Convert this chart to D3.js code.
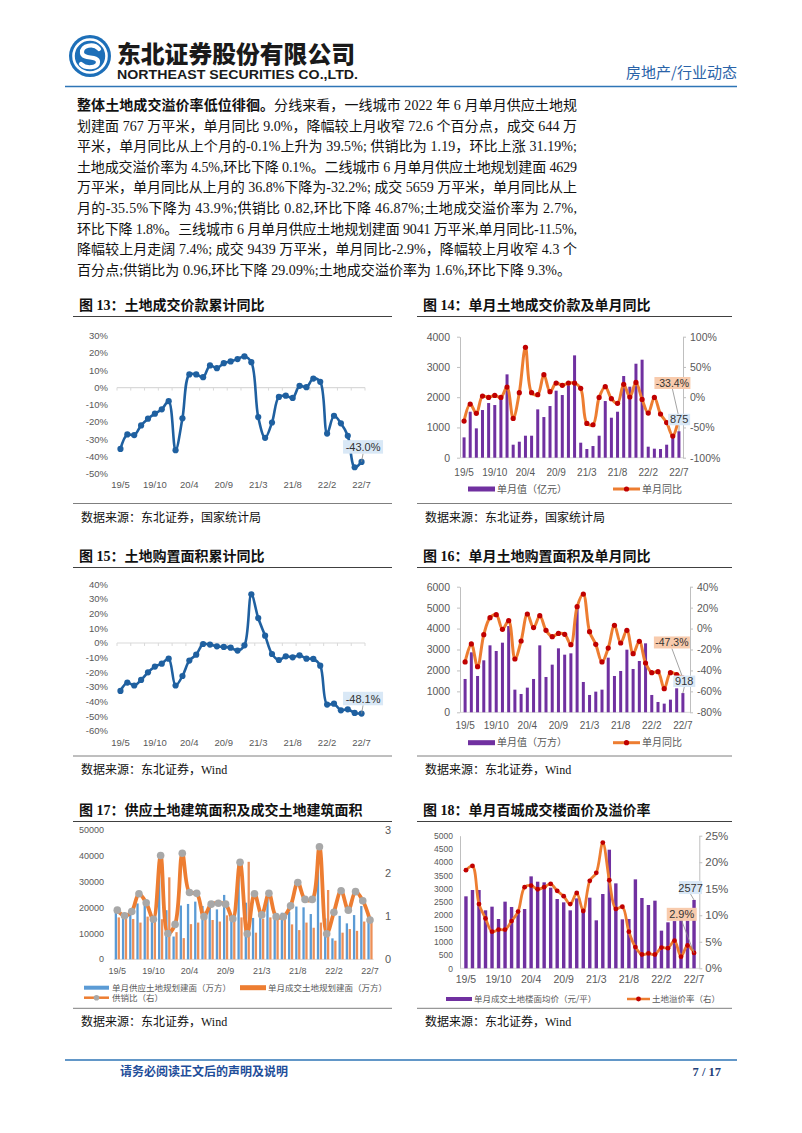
<!DOCTYPE html>
<html><head><meta charset="utf-8">
<script src="https://cdn.jsdelivr.net/npm/d3@7"></script>
<style>body{margin:0;background:#fff}svg{display:block}</style>
</head><body><svg id="page" width="802" height="1133"></svg>
<script>
// ---------------- DATA ----------------
const months = ["19/5","19/6","19/7","19/8","19/9","19/10","19/11","19/12",
"20/2","20/3","20/4","20/5","20/6","20/7","20/8","20/9","20/10","20/11","20/12",
"21/2","21/3","21/4","21/5","21/6","21/7","21/8","21/9","21/10","21/11","21/12",
"22/2","22/3","22/4","22/5","22/6","22/7"];
const xTickLabels = ["19/5","19/10","20/4","20/9","21/3","21/8","22/2","22/7"];

// Fig 13: cumulative land transaction value YoY (%)
const cumValueYoY = [-35.5,-27.1,-27.5,-21.9,-18.0,-15.1,-12.6,-7.9,-36.2,-17.8,7.6,7.6,6.0,12.8,11.2,14.1,15.1,16.5,18.0,14.7,-17.1,-29.1,-20.2,-5.4,-4.7,-6.0,1.0,0.2,5.2,3.3,-26.6,-16.3,-20.7,-27.9,-46.1,-43.0];
// Fig 14: monthly land transaction value (亿元) and YoY (%)
const monthValue = [672,1520,970,1576,1807,1741,1994,2755,430,529,727,727,1598,1344,1708,2215,2072,2391,3383,496,287,386,727,1873,1322,1520,2700,2347,3107,3240,364,298,287,430,780,875];
const monthValueYoY = [-39.4,-11.3,-26.7,1.9,-0.3,3.0,-0.3,16.8,-35.0,7.4,82.4,7.4,4.1,37.2,9.1,23.4,19.6,23.4,23.4,14.6,-43.3,-45.5,-0.3,17.4,-2.5,-10.2,21.2,0.3,24.5,-3.6,-26.2,-0.3,-27.8,-42.0,-64.2,-33.4];
// Fig 15: cumulative land purchase area YoY (%)
const cumAreaYoY = [-32.7,-27.0,-29.0,-25.2,-20.0,-16.1,-14.1,-10.7,-29.0,-22.5,-12.0,-8.0,-0.7,-1.1,-2.3,-2.7,-3.2,-5.2,-1.6,33.2,17.0,5.0,-7.5,-11.6,-9.1,-9.8,-8.4,-10.7,-10.9,-15.5,-42.0,-41.4,-45.9,-45.2,-47.7,-48.1];
// Fig 16: monthly land purchase area (万方) and YoY (%)
const monthArea = [1592,2865,1735,2483,3199,2929,3326,4122,1082,875,1178,1592,3199,1687,2276,3056,2753,2817,4982,1448,828,987,1082,2610,1735,1974,2992,2069,2451,3295,828,493,414,605,1146,918];
const monthAreaYoY = [-31.9,-14.7,-36.4,-5.8,10.4,13.3,-0.7,7.5,-29.1,-11.9,13.9,0.9,12.3,-1.7,-7.7,-4.6,-5.5,-15.4,20.9,33.0,-3.0,-15.1,-31.9,-18.6,3.1,-13.8,-1.7,-24.0,-12.2,-32.9,-42.1,-41.2,-57.4,-42.1,-44.0,-47.3];
// Fig 17: supply / transaction planned floor area (万方) and supply-sales ratio
const supplyArea = [19300,17100,18400,21600,21000,15300,39500,19000,8800,20800,21400,22300,20600,21000,19300,24900,15200,37400,21900,16000,16200,24000,16500,18000,18400,20400,20100,17500,38100,15800,8100,16800,13900,17100,20600,15200];
const soldArea = [16200,16500,15600,14200,16500,16400,15500,31700,10500,8200,13600,14200,18500,15200,14600,17000,16200,16200,37700,10300,15700,16200,16000,17500,13500,11300,14200,12200,14200,26800,7200,10300,11700,11000,14600,15000];
const supplySalesRatio = [1.14,1.01,1.11,1.52,1.31,0.93,2.41,0.60,0.81,2.46,1.55,1.53,0.99,1.28,1.30,1.28,0.94,2.25,0.59,1.52,1.03,1.53,0.99,0.99,1.24,1.78,1.39,1.39,2.61,0.59,1.09,1.59,1.14,1.57,1.36,0.91];
// Fig 18: 100-city land floor price (元/平) and premium rate (%)
const floorPrice = [2714,2952,2952,2186,2324,1859,2513,2312,2136,2236,3467,3266,3241,3040,2613,2487,2186,2638,2211,2663,1809,2801,4472,3203,1847,1859,3354,2651,2387,2550,1420,1734,1780,1850,1800,2577];
const premiumRate = [18.5,19.3,12.1,9.4,6.9,7.3,7.3,8.9,10.7,15.3,15.6,14.9,15.3,15.9,14.6,13.6,12.1,14.2,10.8,16.5,18.0,23.7,16.6,11.2,11.6,6.9,4.0,2.6,2.8,2.6,3.9,3.8,5.2,2.2,4.3,2.9];

const bodyLines = [
  [["整体土地成交溢价率低位徘徊。",true],["分线来看，一线城市 2022 年 6 月单月供应土地规",false]],
  [["划建面 767 万平米，单月同比 9.0%，降幅较上月收窄 72.6 个百分点，成交 644 万",false]],
  [["平米，单月同比从上个月的-0.1%上升为 39.5%; 供销比为 1.19，环比上涨 31.19%;",false]],
  [["土地成交溢价率为 4.5%,环比下降 0.1%。二线城市 6 月单月供应土地规划建面 4629",false]],
  [["万平米，单月同比从上月的 36.8%下降为-32.2%; 成交 5659 万平米，单月同比从上",false]],
  [["月的-35.5%下降为 43.9%;供销比 0.82,环比下降 46.87%;土地成交溢价率为 2.7%,",false]],
  [["环比下降 1.8%。三线城市 6 月单月供应土地规划建面 9041 万平米,单月同比-11.5%,",false]],
  [["降幅较上月走阔 7.4%; 成交 9439 万平米，单月同比-2.9%，降幅较上月收窄 4.3 个",false]],
  [["百分点;供销比为 0.96,环比下降 29.09%;土地成交溢价率为 1.6%,环比下降 9.3%。",false]]
];

// ---------------- DRAW ----------------
const svg = d3.select("#page");
const SERIF = '"Liberation Serif","Noto Sans CJK SC",serif';
const SANS = '"Liberation Sans","Noto Sans CJK SC",sans-serif';
const CJK = '"Noto Sans CJK SC",sans-serif';
const GRAY = "#595959";
const intFmt = d3.format("d");
svg.append("rect").attr("width",802).attr("height",1133).attr("fill","#fff");

// Header
const logo = svg.append("g").attr("transform","translate(90,56)");
logo.append("circle").attr("r",21).attr("fill","#1d6fb8");
logo.append("circle").attr("r",16.5).attr("fill","none").attr("stroke","#fff").attr("stroke-width",2.6);
logo.append("path").attr("d","M9,-7 C4,-13 -9,-11 -8,-3 C-7,4 8,-1 8,6 C8,12 -4,13 -9,8")
  .attr("fill","none").attr("stroke","#fff").attr("stroke-width",4.2).attr("stroke-linecap","round");
svg.append("text").attr("x",117).attr("y",63).attr("font-family",CJK).attr("font-weight",900)
  .attr("font-size",24).attr("fill","#1a1a1a").attr("textLength",238).attr("lengthAdjust","spacingAndGlyphs").text("东北证券股份有限公司");
svg.append("text").attr("x",117).attr("y",79).attr("font-family",SANS).attr("font-weight",700)
  .attr("font-size",12.5).attr("fill","#1a1a1a").attr("textLength",241).attr("lengthAdjust","spacingAndGlyphs").text("NORTHEAST SECURITIES CO.,LTD.");
svg.append("text").attr("x",737).attr("y",78).attr("text-anchor","end").attr("font-family",CJK)
  .attr("font-size",15).attr("fill","#2a63a8").text("房地产/行业动态");
svg.append("line").attr("x1",65).attr("x2",737).attr("y1",86.5).attr("y2",86.5).attr("stroke","#2e75b6").attr("stroke-width",1.5);

// Body paragraph
bodyLines.forEach((parts,k)=>{
  const t = svg.append("text").attr("x",77).attr("y",110+20.6*k).attr("font-family",SERIF)
    .attr("font-size",14).attr("fill","#111").attr("textLength",k<8?500:494).attr("lengthAdjust","spacing");
  parts.forEach(([s,b])=>t.append("tspan").attr("font-weight",b?700:400).attr("font-family",b?CJK:SERIF).text(s));
});

// Footer
svg.append("line").attr("x1",65).attr("x2",737).attr("y1",1060).attr("y2",1060).attr("stroke","#2e75b6").attr("stroke-width",1.5);
svg.append("text").attr("x",120).attr("y",1076).attr("font-family",CJK).attr("font-weight",700)
  .attr("font-size",12).attr("fill","#1f4e9a").text("请务必阅读正文后的声明及说明");
svg.append("text").attr("x",721).attr("y",1076).attr("text-anchor","end").attr("font-family",SERIF).attr("font-weight",700)
  .attr("font-size",12.5).attr("fill","#1f3f7a").text("7 / 17");

// Frame helpers
function frame(x0,x1,titleY,title,srcY,src){
  svg.append("text").attr("x",x0+6).attr("y",titleY).attr("font-family",SERIF).attr("font-weight",700)
    .attr("font-size",14).attr("fill","#111").text(title);
  svg.append("line").attr("x1",x0).attr("x2",x1).attr("y1",titleY+6.5).attr("y2",titleY+6.5).attr("stroke","#404040").attr("stroke-width",1.2);
  svg.append("line").attr("x1",x0).attr("x2",x1).attr("y1",srcY).attr("y2",srcY).attr("stroke","#7f7f7f").attr("stroke-width",1);
  svg.append("text").attr("x",x0+8).attr("y",srcY+18).attr("font-family",SERIF)
    .attr("font-size",12).attr("fill","#111").text(src);
}
const xs = (range)=>d3.scaleBand().domain(months).range(range).padding(0);
const cx = (x)=>d=>x(d)+x.bandwidth()/2;

function xLabels(g,x,y,fs){
  g.selectAll(null).data(xTickLabels).join("text").attr("x",cx(x)).attr("y",y)
    .attr("text-anchor","middle").attr("font-family",SANS).attr("font-size",fs).attr("fill",GRAY).text(d=>d);
}
function yLabels(g,scale,ticks,xpos,anchor,fs,fmt){
  g.selectAll(null).data(ticks).join("text").attr("x",xpos).attr("y",d=>scale(d)).attr("dy","0.35em")
    .attr("text-anchor",anchor).attr("font-family",SANS).attr("font-size",fs).attr("fill",GRAY).text(fmt);
}
function callout(g,px,py,dx,dy,w,h,txt,fill,fs){
  g.append("line").attr("x1",px+dx).attr("y1",py+dy+h/2).attr("x2",px).attr("y2",py).attr("stroke","#8c8c8c").attr("stroke-width",0.8);
  g.append("rect").attr("x",px+dx-w/2).attr("y",py+dy-h/2).attr("width",w).attr("height",h).attr("fill",fill);
  g.append("text").attr("x",px+dx).attr("y",py+dy).attr("dy","0.36em").attr("text-anchor","middle")
    .attr("font-family",SANS).attr("font-size",fs).attr("fill","#333").text(txt);
}
const BLUEBOX="#d9e8f6", ORBOX="#f8cbad";

// ---- cumulative YoY line charts (13, 15)
function cumChart(data,yDom,yRange,ticks,xLabY,label){
  const g = svg.append("g");
  const x = xs([117,365]);
  const y = d3.scaleLinear().domain(yDom).range(yRange);
  g.append("line").attr("x1",117).attr("x2",365).attr("y1",y(0)).attr("y2",y(0)).attr("stroke","#d9d9d9").attr("stroke-width",1.2);
  g.selectAll(null).data(d3.range(0,37,2)).join("line").attr("x1",i=>117+i*x.bandwidth()).attr("x2",i=>117+i*x.bandwidth())
    .attr("y1",y(0)).attr("y2",y(0)+3).attr("stroke","#d9d9d9");
  yLabels(g,y,ticks,108,"end",9.5,d=>d+"%");
  xLabels(g,x,xLabY,9.5);
  const line = d3.line().x((d,i)=>cx(x)(months[i])).y(d=>y(d)).curve(d3.curveCatmullRom.alpha(0.5));
  g.append("path").attr("d",line(data)).attr("fill","none").attr("stroke","#1f60a0").attr("stroke-width",2.6);
  g.selectAll(null).data(data).join("circle").attr("cx",(d,i)=>cx(x)(months[i])).attr("cy",d=>y(d)).attr("r",3.1).attr("fill","#1f60a0");
  const last = data.length-1;
  callout(g,cx(x)(months[last]),y(data[last]),1.5,-15,40,13.5,label,BLUEBOX,11);
}
frame(73,392,310,"图 13：土地成交价款累计同比",503.5,"数据来源：东北证券，国家统计局");
cumChart(cumValueYoY,[-50,30],[474,335.7],d3.range(-50,31,10),488,"-43.0%");
frame(73,392,561,"图 15：土地购置面积累计同比",756,"数据来源：东北证券，Wind");
cumChart(cumAreaYoY,[-60,40],[731,584.3],d3.range(-60,41,10),745.5,"-48.1%");

// ---- bar + line (14, 16)
function barLineChart(bars,line,opt){
  const g = svg.append("g");
  const x = xs(opt.xr);
  const yL = d3.scaleLinear().domain(opt.lDom).range(opt.yr);
  const yR = d3.scaleLinear().domain(opt.rDom).range(opt.yr);
  g.append("g").attr("transform",`translate(${opt.axL},0)`)
    .call(d3.axisLeft(yL).tickValues(opt.lTicks).tickFormat(intFmt).tickSize(3).tickSizeOuter(0).tickPadding(7))
    .call(a=>{a.selectAll("path,line").attr("stroke","#bfbfbf");a.selectAll("text").attr("font-family",SANS).attr("font-size",10.5).attr("fill",GRAY);});
  g.append("g").attr("transform",`translate(${opt.axR},0)`)
    .call(d3.axisRight(yR).tickValues(opt.rTicks).tickFormat(d=>d+"%").tickSize(3).tickSizeOuter(0).tickPadding(opt.rPad))
    .call(a=>{a.selectAll("path,line").attr("stroke","#bfbfbf");a.selectAll("text").attr("font-family",SANS).attr("font-size",10.5).attr("fill",GRAY);});
  g.append("line").attr("x1",opt.axL).attr("x2",opt.axR).attr("y1",yL(0)).attr("y2",yL(0)).attr("stroke","#d9d9d9");
  g.selectAll(null).data(bars).join("rect").attr("x",(d,i)=>cx(x)(months[i])-1.5).attr("width",3)
    .attr("y",d=>yL(d)).attr("height",d=>yL(0)-yL(d)).attr("fill","#7030a0");
  const ln = d3.line().x((d,i)=>cx(x)(months[i])).y(d=>yR(d)).curve(d3.curveCatmullRom.alpha(0.5));
  g.append("path").attr("d",ln(line)).attr("fill","none").attr("stroke","#ed7d31").attr("stroke-width",3);
  g.selectAll(null).data(line).join("circle").attr("cx",(d,i)=>cx(x)(months[i])).attr("cy",d=>yR(d)).attr("r",2.6).attr("fill","#c00000");
  xLabels(g,x,opt.xLabY,10);
  const last = months.length-1, lx = cx(x)(months[last]);
  callout(g,lx,yR(line[last]),opt.c1[0],opt.c1[1],36,12,opt.c1[2],ORBOX,10.5);
  callout(g,lx,yL(bars[last]),opt.c2[0],opt.c2[1],opt.c2[3],11.5,opt.c2[2],BLUEBOX,11);
  // legend
  const ly = opt.legY;
  g.append("rect").attr("x",468).attr("y",ly-2.5).attr("width",27).attr("height",5).attr("fill","#7030a0");
  g.append("text").attr("x",497).attr("y",ly).attr("dy","0.35em").attr("font-family",CJK).attr("font-size",10).attr("fill",GRAY).text(opt.legText);
  g.append("line").attr("x1",613).attr("x2",640).attr("y1",ly).attr("y2",ly).attr("stroke","#ed7d31").attr("stroke-width",3);
  g.append("circle").attr("cx",626.5).attr("cy",ly).attr("r",2.6).attr("fill","#c00000");
  g.append("text").attr("x",642).attr("y",ly).attr("dy","0.35em").attr("font-family",CJK).attr("font-size",10).attr("fill",GRAY).text("单月同比");
}
frame(417,732,310,"图 14：单月土地成交价款及单月同比",503.5,"数据来源：东北证券，国家统计局");
barLineChart(monthValue,monthValueYoY,{xr:[461,682],lDom:[0,4000],rDom:[-100,100],yr:[457.7,336.7],axL:460,axR:683,
  lTicks:d3.range(0,4001,1000),rTicks:d3.range(-100,101,50),rPad:4,xLabY:476,legY:489,legText:"单月值（亿元）",
  c1:[-6.5,-34.4,"-33.4%"],c2:[0.2,-11.7,"875",22]});
frame(417,732,561,"图 16：单月土地购置面积及单月同比",756,"数据来源：东北证券，Wind");
barLineChart(monthArea,monthAreaYoY,{xr:[462,686],lDom:[0,6000],rDom:[-80,40],yr:[712.3,586.7],axL:460,axR:690,
  lTicks:d3.range(0,6001,1000),rTicks:d3.range(-80,41,20),rPad:4,xLabY:729,legY:742.7,legText:"单月值（万方）",
  c1:[-11,-35.6,"-47.3%"],c2:[1.4,-11.8,"918",22]});

// ---- Fig 17
(function(){
  frame(73,392,815,"图 17：供应土地建筑面积及成交土地建筑面积",1008.3,"数据来源：东北证券，Wind");
  const g = svg.append("g");
  const x = xs([113.7,373.6]);
  const yL = d3.scaleLinear().domain([0,50000]).range([959.3,830]);
  const yR = d3.scaleLinear().domain([0,3]).range([959.3,830]);
  yLabels(g,yL,d3.range(0,50001,10000),104,"end",9,d=>d);
  yLabels(g,yR,[0,1,2,3],385,"start",11,d=>d);
  g.append("line").attr("x1",113.7).attr("x2",373.6).attr("y1",yL(0)).attr("y2",yL(0)).attr("stroke","#d9d9d9");
  g.selectAll(null).data(supplyArea).join("rect").attr("x",(d,i)=>cx(x)(months[i])-2.6).attr("width",2.3)
    .attr("y",d=>yL(d)).attr("height",d=>yL(0)-yL(d)).attr("fill","#5b9bd5");
  g.selectAll(null).data(soldArea).join("rect").attr("x",(d,i)=>cx(x)(months[i])+0.3).attr("width",2.3)
    .attr("y",d=>yL(d)).attr("height",d=>yL(0)-yL(d)).attr("fill","#ec8f57");
  const ln = d3.line().x((d,i)=>cx(x)(months[i])).y(d=>yR(d)).curve(d3.curveCatmullRom.alpha(0.5));
  g.append("path").attr("d",ln(supplySalesRatio)).attr("fill","none").attr("stroke","#ed7d31").attr("stroke-width",3.8);
  g.selectAll(null).data(supplySalesRatio).join("circle").attr("cx",(d,i)=>cx(x)(months[i])).attr("cy",d=>yR(d)).attr("r",3.8).attr("fill","#a8a8a8");
  xLabels(g,x,973.5,9);
  const fs=8.5;
  g.append("rect").attr("x",84).attr("y",985.7).attr("width",25).attr("height",4).attr("fill","#5b9bd5");
  g.append("text").attr("x",112).attr("y",987.7).attr("dy","0.35em").attr("font-family",CJK).attr("font-size",fs).attr("fill",GRAY).text("单月供应土地规划建面（万方）");
  g.append("rect").attr("x",240).attr("y",985.2).attr("width",26).attr("height",5).attr("fill","#ed7d31");
  g.append("text").attr("x",268).attr("y",987.7).attr("dy","0.35em").attr("font-family",CJK).attr("font-size",fs).attr("fill",GRAY).text("单月成交土地规划建面（万方）");
  g.append("line").attr("x1",84).attr("x2",109).attr("y1",997.7).attr("y2",997.7).attr("stroke","#ed7d31").attr("stroke-width",2.5);
  g.append("circle").attr("cx",96.5).attr("cy",997.7).attr("r",2.8).attr("fill","#a8a8a8");
  g.append("text").attr("x",112).attr("y",997.7).attr("dy","0.35em").attr("font-family",CJK).attr("font-size",fs).attr("fill",GRAY).text("供销比（右）");
})();

// ---- Fig 18
(function(){
  frame(417,732,815,"图 18：单月百城成交楼面价及溢价率",1008.3,"数据来源：东北证券，Wind");
  const g = svg.append("g");
  const x = xs([462.7,697.3]);
  const yL = d3.scaleLinear().domain([0,5000]).range([968.3,835.7]);
  const yR = d3.scaleLinear().domain([0,25]).range([968.3,835.7]);
  g.append("g").attr("transform","translate(460,0)")
    .call(d3.axisLeft(yL).tickValues(d3.range(0,5001,500)).tickFormat(intFmt).tickSize(0).tickPadding(7))
    .call(a=>{a.selectAll("path").attr("stroke","#bfbfbf");a.selectAll("text").attr("font-family",SANS).attr("font-size",8.5).attr("fill",GRAY);});
  g.append("g").attr("transform","translate(699.3,0)")
    .call(d3.axisRight(yR).tickValues(d3.range(0,26,5)).tickFormat(d=>d+"%").tickSize(3).tickSizeOuter(0).tickPadding(3))
    .call(a=>{a.selectAll("path,line").attr("stroke","#bfbfbf");a.selectAll("text").attr("font-family",SANS).attr("font-size",11.5).attr("fill",GRAY);});
  g.append("line").attr("x1",460).attr("x2",699.3).attr("y1",yL(0)).attr("y2",yL(0)).attr("stroke","#d9d9d9");
  g.selectAll(null).data(floorPrice).join("rect").attr("x",(d,i)=>cx(x)(months[i])-1.7).attr("width",3.4)
    .attr("y",d=>yL(d)).attr("height",d=>yL(0)-yL(d)).attr("fill","#7030a0");
  const ln = d3.line().x((d,i)=>cx(x)(months[i])).y(d=>yR(d)).curve(d3.curveCatmullRom.alpha(0.5));
  g.append("path").attr("d",ln(premiumRate)).attr("fill","none").attr("stroke","#ed7d31").attr("stroke-width",2.8);
  g.selectAll(null).data(premiumRate).join("circle").attr("cx",(d,i)=>cx(x)(months[i])).attr("cy",d=>yR(d)).attr("r",2.4).attr("fill","#c00000");
  xLabels(g,x,983,10.5);
  const last = months.length-1, lx = cx(x)(months[last]);
  callout(g,lx,yR(premiumRate[last]),-12.3,-38.6,30,13,"2.9%",ORBOX,11);
  callout(g,lx,yL(floorPrice[last]),-3.5,-12.4,23,13,"2577",BLUEBOX,11);
  const fs=8.5, ly=999;
  g.append("rect").attr("x",446).attr("y",ly-2).attr("width",26).attr("height",4).attr("fill","#7030a0");
  g.append("text").attr("x",474).attr("y",ly).attr("dy","0.35em").attr("font-family",CJK).attr("font-size",fs).attr("fill",GRAY).text("单月成交土地楼面均价（元/平）");
  g.append("line").attr("x1",627).attr("x2",650).attr("y1",ly).attr("y2",ly).attr("stroke","#ed7d31").attr("stroke-width",2.5);
  g.append("circle").attr("cx",638.5).attr("cy",ly).attr("r",2.4).attr("fill","#c00000");
  g.append("text").attr("x",652).attr("y",ly).attr("dy","0.35em").attr("font-family",CJK).attr("font-size",fs).attr("fill",GRAY).text("土地溢价率（右）");
})();
</script></body></html>
